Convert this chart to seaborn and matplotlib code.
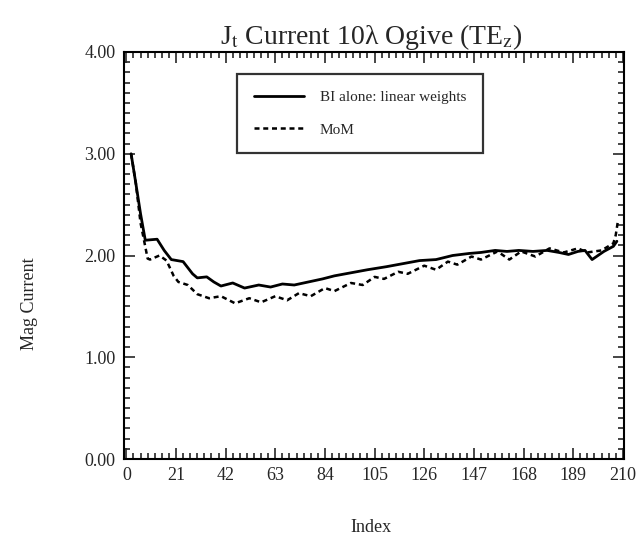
import numpy as np
import pandas as pd
import matplotlib
matplotlib.use("Agg")
import matplotlib.pyplot as plt
import seaborn as sns
from matplotlib.ticker import MultipleLocator, FormatStrFormatter

# datos
bi_idx = [2, 4, 6, 8, 13, 16, 19, 24, 28, 30, 34, 37, 40, 45, 50, 56, 61, 66, 71, 77,
          83, 88, 95, 102, 110, 117, 124, 131, 138, 145, 150, 156, 161, 166, 172, 178,
          183, 187, 191, 194, 197, 202, 206, 207.5]
bi_val = [3.00, 2.71, 2.41, 2.15, 2.16, 2.05, 1.96, 1.94, 1.82, 1.78, 1.79, 1.74, 1.70,
          1.73, 1.68, 1.71, 1.69, 1.72, 1.71, 1.74, 1.77, 1.80, 1.83, 1.86, 1.89, 1.92,
          1.95, 1.96, 2.00, 2.02, 2.03, 2.05, 2.04, 2.05, 2.04, 2.05, 2.03, 2.01, 2.04,
          2.05, 1.96, 2.04, 2.09, 2.14]

mom_idx = [2, 4, 6, 9, 10, 14, 17, 20, 22, 26, 30, 35, 40, 46, 52, 57, 63, 68, 73, 78,
           84, 88, 95, 100, 105, 109, 115, 119, 126, 131, 136, 140, 146, 150, 157, 162,
           167, 173, 179, 185, 191, 195, 201, 206, 207, 207.8]
mom_val = [3.00, 2.71, 2.32, 1.97, 1.96, 2.00, 1.95, 1.80, 1.74, 1.71, 1.62, 1.58, 1.60,
           1.53, 1.58, 1.54, 1.60, 1.56, 1.63, 1.60, 1.68, 1.65, 1.73, 1.71, 1.79, 1.77,
           1.84, 1.82, 1.90, 1.86, 1.94, 1.91, 1.99, 1.96, 2.04, 1.96, 2.04, 1.99, 2.07,
           2.03, 2.07, 2.03, 2.05, 2.12, 2.20, 2.32]

df_bi = pd.DataFrame({"Index": bi_idx, "Mag": bi_val})
df_mom = pd.DataFrame({"Index": mom_idx, "Mag": mom_val})

sns.set_style("ticks")
plt.rcParams["font.family"] = ["Liberation Serif", "DejaVu Serif"]
plt.rcParams["mathtext.fontset"] = "stix"

fig = plt.figure(figsize=(6.42, 5.45), dpi=100)
ax = fig.add_axes([124/642, 1-459/545, 500/642, 407/545])

sns.lineplot(x="Index", y="Mag", data=df_bi, ax=ax, color="black", linewidth=2.0,
             label="BI alone: linear weights")
sns.lineplot(x="Index", y="Mag", data=df_mom, ax=ax, color="black", linewidth=1.8,
             linestyle=(0, (2.0, 1.5)), label="MoM")

ax.set_xlim(-1, 210.5)
ax.set_ylim(0, 4)
ax.xaxis.set_major_locator(MultipleLocator(21))
ax.xaxis.set_minor_locator(MultipleLocator(3))
ax.yaxis.set_major_locator(MultipleLocator(1))
ax.yaxis.set_minor_locator(MultipleLocator(0.1))
ax.yaxis.set_major_formatter(FormatStrFormatter("%.2f"))
ax.tick_params(which="both", direction="in", top=True, right=True, width=1.2, labelsize=13)
ax.tick_params(which="major", length=8, pad=6)
ax.tick_params(which="minor", length=4)
for s in ax.spines.values():
    s.set_linewidth(1.5)
    s.set_color("black")
ax.set_xlabel("")
ax.set_ylabel("")

leg = ax.legend(loc="upper left", bbox_to_anchor=((239-126)/500, (459-74)/407),
                fontsize=11, frameon=True, fancybox=False, handlelength=3.3,
                handletextpad=1.0, borderpad=1.1, labelspacing=1.2, borderaxespad=0)
leg.get_frame().set_edgecolor("black")
leg.get_frame().set_linewidth(1.6)

fig.text(371/642, 1-37/545, r"J$_\mathrm{t}$ Current 10λ Ogive (TE$_\mathrm{z}$)",
         ha="center", va="center", fontsize=20)
fig.text(30/642, 1-304/545, "Mag Current", rotation=90, ha="center", va="center", fontsize=13)
fig.text(371/642, 1-527/545, "Index", ha="center", va="center", fontsize=13)

plt.savefig("out.png", dpi=100)
